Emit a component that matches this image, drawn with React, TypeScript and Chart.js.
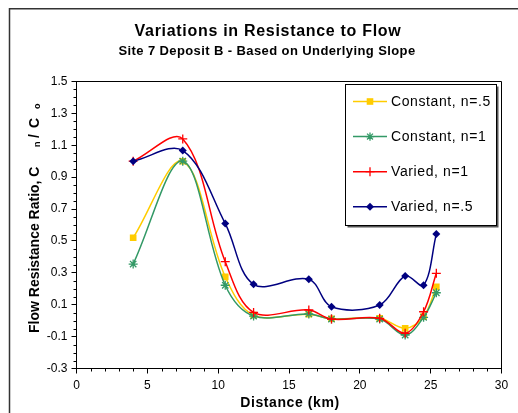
import React, { useEffect, useRef } from "react";
import { Chart, registerables } from "chart.js";

Chart.register(...registerables);

// ---- data ----
const distanceKm = [4, 7.5, 10.5, 12.5, 16.4, 18, 21.4, 23.2, 24.5, 25.4];
const constantHalf = [0.52, 1.0, 0.275, 0.035, 0.04, 0.012, 0.015, -0.048, 0.025, 0.213];
const constantOne = [0.355, 1.0, 0.222, 0.029, 0.042, 0.01, 0.01, -0.09, 0.021, 0.175];
const variedOne = [1.0, 1.14, 0.37, 0.052, 0.067, 0.01, 0.015, -0.079, 0.056, 0.297];
const variedHalf = [1.0, 1.067, 0.609, 0.228, 0.26, 0.087, 0.098, 0.28, 0.222, 0.544];

const seriesNames = ["Constant, n=.5", "Constant, n=1", "Varied, n=1", "Varied, n=.5"];
const seriesColors = ["#FFCC00", "#339966", "#FF0000", "#000080"];
const seriesMarkers = ["rect", "star", "cross", "rectRot"];

const titleText = "Variations in Resistance to Flow";
const subtitleText = "Site 7 Deposit B - Based on Underlying Slope";
const xTitle = "Distance (km)";

const xMin = 0, xMax = 30, xStep = 5;
const yMin = -0.3, yMax = 1.5, yStep = 0.2;

const FONT = '"Liberation Sans", Arial, Helvetica, sans-serif';

function drawMarker(ctx: CanvasRenderingContext2D, style: string, x: number, y: number, color: string) {
  ctx.save();
  ctx.fillStyle = color;
  ctx.strokeStyle = color;
  ctx.lineWidth = 1.3;
  if (style === "rect") {
    ctx.fillRect(x - 3.3, y - 3.3, 6.6, 6.6);
  } else if (style === "rectRot") {
    ctx.beginPath();
    ctx.moveTo(x, y - 4);
    ctx.lineTo(x + 4, y);
    ctx.lineTo(x, y + 4);
    ctx.lineTo(x - 4, y);
    ctx.closePath();
    ctx.fill();
  } else if (style === "cross") {
    ctx.beginPath();
    ctx.moveTo(x - 4.5, y);
    ctx.lineTo(x + 4.5, y);
    ctx.moveTo(x, y - 4.5);
    ctx.lineTo(x, y + 4.5);
    ctx.stroke();
  } else if (style === "star") {
    ctx.beginPath();
    const r = 4.2;
    ctx.moveTo(x - r, y); ctx.lineTo(x + r, y);
    ctx.moveTo(x, y - r); ctx.lineTo(x, y + r);
    const d = r * Math.SQRT1_2;
    ctx.moveTo(x - d, y - d); ctx.lineTo(x + d, y + d);
    ctx.moveTo(x - d, y + d); ctx.lineTo(x + d, y - d);
    ctx.stroke();
  }
  ctx.restore();
}

const decorPlugin = {
  id: "decor",
  afterDraw(chart: any) {
    const ctx: CanvasRenderingContext2D = chart.ctx;
    const area = chart.chartArea;
    const xs = chart.scales.x;
    const ys = chart.scales.y;
    ctx.save();

    // outer frame (top + left)
    ctx.strokeStyle = "#333333";
    ctx.lineWidth = 1.5;
    ctx.beginPath();
    ctx.moveTo(9.5, 413);
    ctx.lineTo(9.5, 8.75);
    ctx.lineTo(518, 8.75);
    ctx.stroke();

    // titles
    ctx.fillStyle = "#000";
    ctx.textAlign = "center";
    ctx.textBaseline = "middle";
    (ctx as any).letterSpacing = "0.7px";
    ctx.font = `bold 16px ${FONT}`;
    ctx.fillText(titleText, 268, 32);
    (ctx as any).letterSpacing = "0.4px";
    ctx.font = `bold 13px ${FONT}`;
    ctx.fillText(subtitleText, 267, 51);

    // plot border top/right
    ctx.strokeStyle = "#000";
    ctx.lineWidth = 1;
    ctx.beginPath();
    ctx.moveTo(area.left, area.top);
    ctx.lineTo(area.right, area.top);
    ctx.lineTo(area.right, area.bottom);
    ctx.stroke();

    // minor ticks
    ctx.beginPath();
    for (let i = xMin; i <= xMax; i++) {
      if (i % xStep === 0) continue;
      const px = Math.round(xs.getPixelForValue(i)) + 0.5;
      ctx.moveTo(px, area.bottom);
      ctx.lineTo(px, area.bottom + 3);
    }
    const nMinor = Math.round((yMax - yMin) / 0.05);
    for (let i = 0; i <= nMinor; i++) {
      if (i % 4 === 0) continue;
      const v = yMin + i * 0.05;
      const py = Math.round(ys.getPixelForValue(v)) + 0.5;
      ctx.moveTo(area.left, py);
      ctx.lineTo(area.left - 3, py);
    }
    ctx.stroke();

    // axis titles
    (ctx as any).letterSpacing = "0.6px";
    ctx.font = `bold 14px ${FONT}`;
    ctx.textAlign = "center";
    ctx.textBaseline = "middle";
    ctx.fillText(xTitle, 290, 403);

    ctx.save();
    ctx.translate(35, 333);
    ctx.rotate(-Math.PI / 2);
    ctx.textAlign = "left";
    ctx.textBaseline = "middle";
    (ctx as any).letterSpacing = "0px";
    ctx.font = `bold 14px ${FONT}`;
    ctx.fillText("Flow Resistance Ratio, C", 0, 0);
    ctx.font = `bold 9px ${FONT}`;
    ctx.fillText("n", 186, 3);
    ctx.font = `bold 14px ${FONT}`;
    ctx.fillText("/", 195, 0);
    ctx.fillText("C", 205, 0);
    ctx.font = `bold 9px ${FONT}`;
    ctx.fillText("o", 224, 3);
    ctx.restore();

    // legend
    const lx = 345.5, ly = 84.5, lw = 151, lh = 141;
    ctx.fillStyle = "#555";
    ctx.fillRect(lx + 2, ly + 2, lw, lh);
    ctx.fillStyle = "#fff";
    ctx.fillRect(lx, ly, lw, lh);
    ctx.strokeStyle = "#000";
    ctx.lineWidth = 1;
    ctx.strokeRect(lx, ly, lw, lh);
    (ctx as any).letterSpacing = "0.6px";
    ctx.font = `14px ${FONT}`;
    ctx.textAlign = "left";
    ctx.textBaseline = "middle";
    for (let i = 0; i < seriesNames.length; i++) {
      const cy = 101.5 + i * 35.1;
      ctx.strokeStyle = seriesColors[i];
      ctx.lineWidth = 1.5;
      ctx.beginPath();
      ctx.moveTo(353, cy);
      ctx.lineTo(387, cy);
      ctx.stroke();
      drawMarker(ctx, seriesMarkers[i], 370, cy, seriesColors[i]);
      ctx.fillStyle = "#000";
      ctx.fillText(seriesNames[i], 391, cy + 0.5);
    }
    ctx.restore();
  },
};

export default function App() {
  const ref = useRef<HTMLCanvasElement | null>(null);

  useEffect(() => {
    if (!ref.current) return;
    const allSeries = [constantHalf, constantOne, variedOne, variedHalf];
    const datasets = allSeries.map((vals, i) => ({
      label: seriesNames[i],
      data: vals.map((v, j) => ({ x: distanceKm[j], y: v })),
      borderColor: seriesColors[i],
      backgroundColor: seriesColors[i],
      borderWidth: 1.5,
      pointStyle: seriesMarkers[i] as any,
      pointRadius: seriesMarkers[i] === "rect" ? 4.7 : seriesMarkers[i] === "rectRot" ? 4 : 4.5,
      pointBorderWidth: seriesMarkers[i] === "rect" || seriesMarkers[i] === "rectRot" ? 0 : 1.3,
      pointBorderColor: seriesColors[i],
      pointBackgroundColor: seriesColors[i],
      tension: 0.35,
      fill: false,
      order: allSeries.length - i,
    }));

    const chart = new Chart(ref.current, {
      type: "line",
      data: { datasets },
      options: {
        animation: false,
        responsive: false,
        devicePixelRatio: 1,
        events: [],
        layout: { padding: { top: 81.5, right: 16.5, left: 0, bottom: 0 } },
        plugins: {
          legend: { display: false },
          tooltip: { enabled: false },
          title: { display: false },
        },
        scales: {
          x: {
            type: "linear",
            min: xMin,
            max: xMax,
            afterFit: (s: any) => { s.height = 44.5; },
            ticks: {
              stepSize: xStep,
              autoSkip: false,
              maxRotation: 0,
              padding: 5,
              color: "#000",
              font: { family: FONT, size: 12 },
            },
            grid: { drawOnChartArea: false, drawTicks: true, tickLength: 5, color: "#000" },
            border: { display: true, color: "#000", width: 1 },
          },
          y: {
            type: "linear",
            min: yMin,
            max: yMax,
            afterFit: (s: any) => { s.width = 76.5; },
            ticks: {
              stepSize: yStep,
              autoSkip: false,
              padding: 4,
              color: "#000",
              font: { family: FONT, size: 12 },
              callback: (v: any) => Number(v).toFixed(1),
            },
            grid: { drawOnChartArea: false, drawTicks: true, tickLength: 5, color: "#000" },
            border: { display: true, color: "#000", width: 1 },
          },
        },
      },
      plugins: [decorPlugin],
    });
    return () => chart.destroy();
  }, []);

  return (
    <div style={{ position: "absolute", left: 0, top: 0, width: 518, height: 413, background: "#fff" }}>
      <canvas ref={ref} width={518} height={413} style={{ display: "block", width: 518, height: 413 }} />
    </div>
  );
}
